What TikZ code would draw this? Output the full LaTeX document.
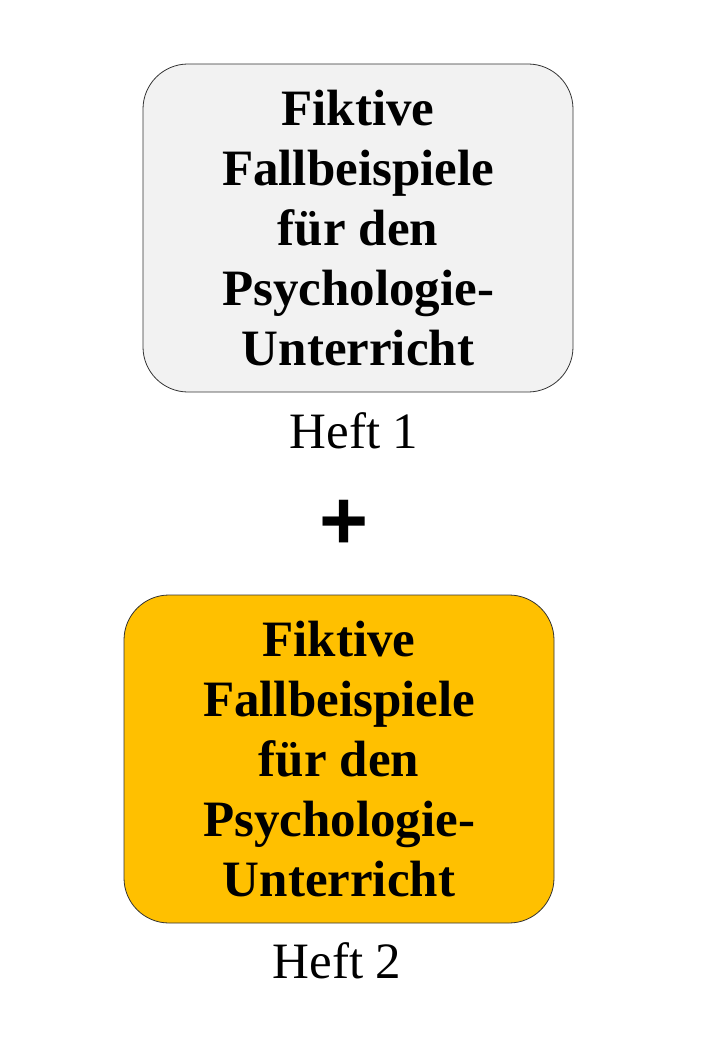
\documentclass[tikz,border=0pt]{standalone}
\usepackage{fontspec}
\setmainfont{Liberation Serif}
\newfontfamily\plusfont{Liberation Sans}
\usetikzlibrary{positioning}

\definecolor{heftgrau}{HTML}{F2F2F2}
\definecolor{heftgelb}{HTML}{FFC000}

\begin{document}
\begin{tikzpicture}[x=1pt, y=-1pt,
		heft/.style={draw=black!80, line width=0.8pt, rounded corners=45pt,
			minimum width=430pt, minimum height=328pt, inner sep=0pt,
			align=center, font=\fontsize{51}{60}\selectfont\bfseries},
		caption/.style={font=\fontsize{51}{54}\selectfont, inner sep=0pt, anchor=base}
	]
	\useasboundingbox (0, 0) rectangle (720, 1040);
	\node[heft, fill=heftgrau] (Heft1) at (358, 228) {Fiktive\\Fallbeispiele\\für den\\Psychologie-\\Unterricht};
	\node[caption] (Heft1Label) at (354, 448) {Heft 1};
	\node[inner sep=0pt, font=\plusfont\bfseries\fontsize{84}{84}\selectfont] (Plus) at (344, 525) {+};
	\node[heft, fill=heftgelb] (Heft2) at (339, 759) {Fiktive\\Fallbeispiele\\für den\\Psychologie-\\Unterricht};
	\node[caption] (Heft2Label) at (337, 978) {Heft 2};
\end{tikzpicture}
\end{document}
